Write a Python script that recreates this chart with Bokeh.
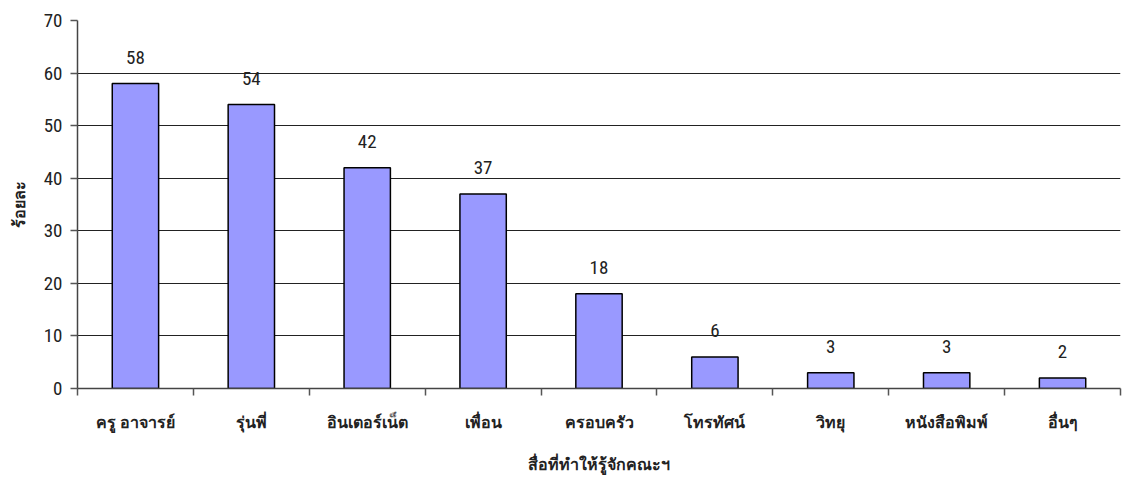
from bokeh.plotting import figure
from bokeh.models import FixedTicker, ColumnDataSource, Range1d
from bokeh.embed import file_html
from bokeh.resources import INLINE

categories = ["ครู อาจารย์", "รุ่นพี่", "อินเตอร์เน็ต", "เพื่อน", "ครอบครัว", "โทรทัศน์", "วิทยุ", "หนังสือพิมพ์", "อื่นๆ"]
values = [58, 54, 42, 37, 18, 6, 3, 3, 2]
y_ticks = [0, 10, 20, 30, 40, 50, 60, 70]
x_title = "สื่อที่ทำให้รู้จักคณะฯ"
y_title = "ร้อยละ"

num_font = "Liberation Sans Narrow, Arial Narrow, Roboto Condensed, Liberation Sans, sans-serif"
thai_font = "Tahoma, Liberation Sans, Noto Sans, DejaVu Sans, sans-serif"
ink = "#222222"

xs = [i + 0.5 for i in range(len(categories))]
src = ColumnDataSource(dict(x=xs, top=values, label=[str(v) for v in values]))

p = figure(width=1124, height=477, output_backend="svg", toolbar_location=None,
           x_range=Range1d(0, len(categories)), y_range=Range1d(0, 70),
           min_border_left=77, min_border_right=4, min_border_top=20, min_border_bottom=89)
p.outline_line_color = None
p.background_fill_color = "white"

p.vbar(x="x", top="top", width=0.4, source=src, fill_color="#9999FF", line_color="black", line_width=1.5)
p.text(x="x", y="top", text="label", source=src, text_align="center", text_baseline="alphabetic",
       y_offset=-26, text_font_size="19px", text_color=ink, text_font={"value": num_font})

# axes
p.xaxis.ticker = FixedTicker(ticks=xs, minor_ticks=list(range(len(categories) + 1)))
p.xaxis.major_label_overrides = {x: c for x, c in zip(xs, categories)}
p.xaxis.major_tick_out = 0
p.xaxis.major_tick_in = 0
p.xaxis.minor_tick_out = 7
p.xaxis.minor_tick_in = 0
p.xaxis.minor_tick_line_color = "#555555"
p.xaxis.minor_tick_line_width = 1.5
p.xaxis.major_label_standoff = 18
p.xaxis.major_label_text_font = thai_font
p.xaxis.major_label_text_font_style = "bold"
p.xaxis.major_label_text_font_size = "16px"
p.xaxis.major_label_text_color = ink
p.xaxis.axis_label = x_title
p.xaxis.axis_label_text_font = thai_font
p.xaxis.axis_label_text_font_style = "bold"
p.xaxis.axis_label_text_font_size = "16px"
p.xaxis.axis_label_text_color = ink
p.xaxis.axis_label_standoff = 22
p.xaxis.axis_line_color = "#444444"
p.xaxis.axis_line_width = 1.5

p.yaxis.ticker = FixedTicker(ticks=y_ticks)
p.yaxis.minor_tick_line_color = None
p.yaxis.major_tick_out = 7
p.yaxis.major_tick_in = 0
p.yaxis.major_tick_line_color = "#555555"
p.yaxis.major_tick_line_width = 1.5
p.yaxis.major_label_standoff = 8
p.yaxis.major_label_text_font = num_font
p.yaxis.major_label_text_font_size = "19px"
p.yaxis.major_label_text_color = ink
p.yaxis.axis_label = y_title
p.yaxis.axis_label_text_font = thai_font
p.yaxis.axis_label_text_font_style = "bold"
p.yaxis.axis_label_text_font_size = "16px"
p.yaxis.axis_label_text_color = ink
p.yaxis.axis_label_standoff = 13
p.yaxis.axis_line_color = "#444444"
p.yaxis.axis_line_width = 1.5

p.xgrid.grid_line_color = None
p.ygrid.ticker = FixedTicker(ticks=y_ticks[1:])
p.ygrid.grid_line_color = "#222222"
p.ygrid.grid_line_width = 1

open("out.html", "w").write(file_html(p, INLINE))
